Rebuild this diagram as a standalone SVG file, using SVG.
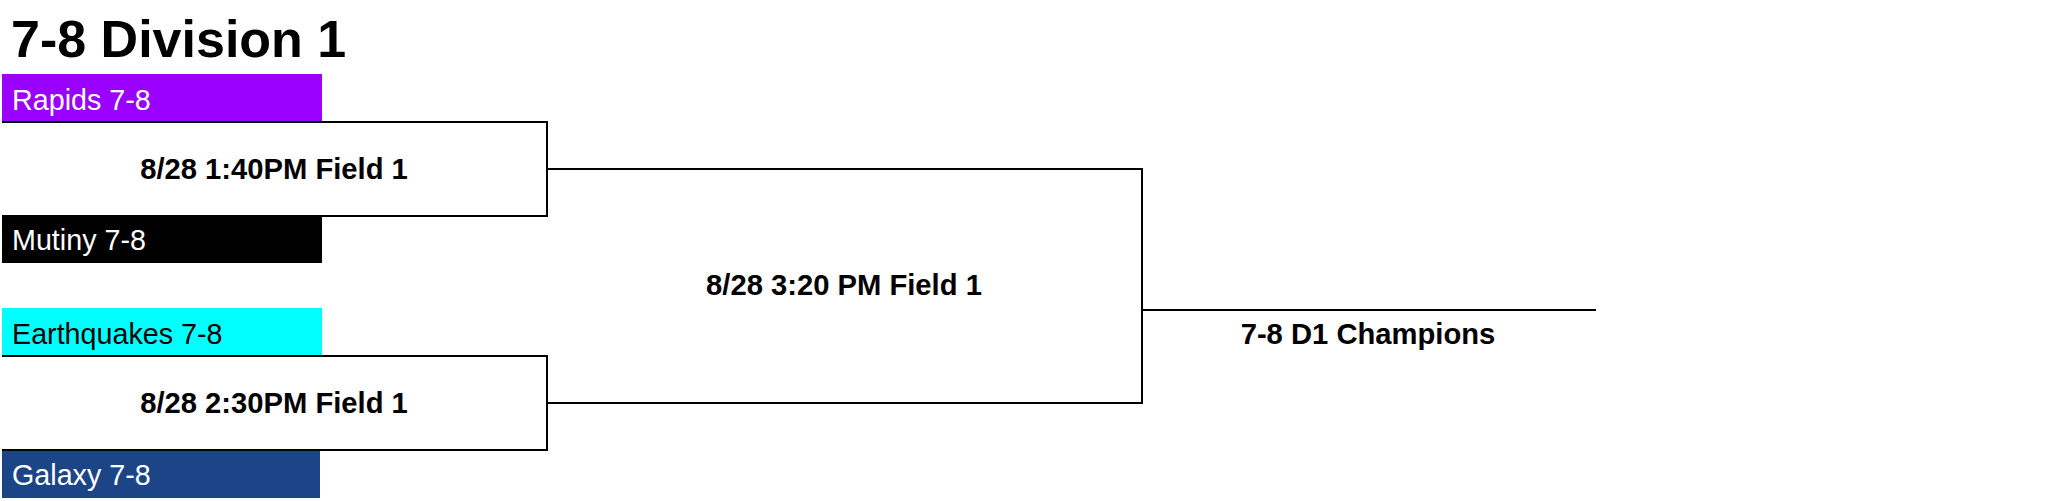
<svg xmlns="http://www.w3.org/2000/svg" width="2048" height="501" viewBox="0 0 2048 501">
<style>
.title{font-family:"Liberation Sans",Arial,sans-serif;font-weight:bold;font-size:52px;fill:#000}
.team{font-family:"Liberation Sans",Arial,sans-serif;font-size:28.7px}
.match{font-family:"Liberation Sans",Arial,sans-serif;font-weight:bold;font-size:29.2px;fill:#000;text-anchor:middle}
.ln{fill:none;stroke:#000;stroke-width:2}
</style>
<rect x="0" y="0" width="2048" height="501" fill="#fff"/>
<text class="title" x="11" y="57">7-8 Division 1</text>
<g id="rapids"><rect x="2" y="74" width="320" height="47" fill="#9900ff"/><text class="team" x="12" y="110" fill="#fff">Rapids 7-8</text></g>
<g id="mutiny"><rect x="2" y="216" width="320" height="47" fill="#000"/><text class="team" x="12" y="250" fill="#fff">Mutiny 7-8</text></g>
<g id="earthquakes"><rect x="2" y="308" width="320" height="48" fill="#00ffff"/><text class="team" x="12" y="344" fill="#000">Earthquakes 7-8</text></g>
<g id="galaxy"><rect x="2" y="451" width="318" height="47" fill="#1c4587"/><text class="team" x="12" y="485" fill="#fff">Galaxy 7-8</text></g>
<g id="match1"><text class="match" x="274" y="179">8/28 1:40PM Field 1</text></g>
<g id="match2"><text class="match" x="274" y="413">8/28 2:30PM Field 1</text></g>
<g id="final"><text class="match" x="844" y="295">8/28 3:20 PM Field 1</text></g>
<g id="champion"><text class="match" x="1368" y="344">7-8 D1 Champions</text></g>
<g id="connectors">
<path class="ln" d="M2 122H547V216H2"/>
<path class="ln" d="M2 356H547V450H2"/>
<path class="ln" d="M547 169H1142V403H547"/>
<path class="ln" d="M1142 310H1596"/>
</g>
</svg>
